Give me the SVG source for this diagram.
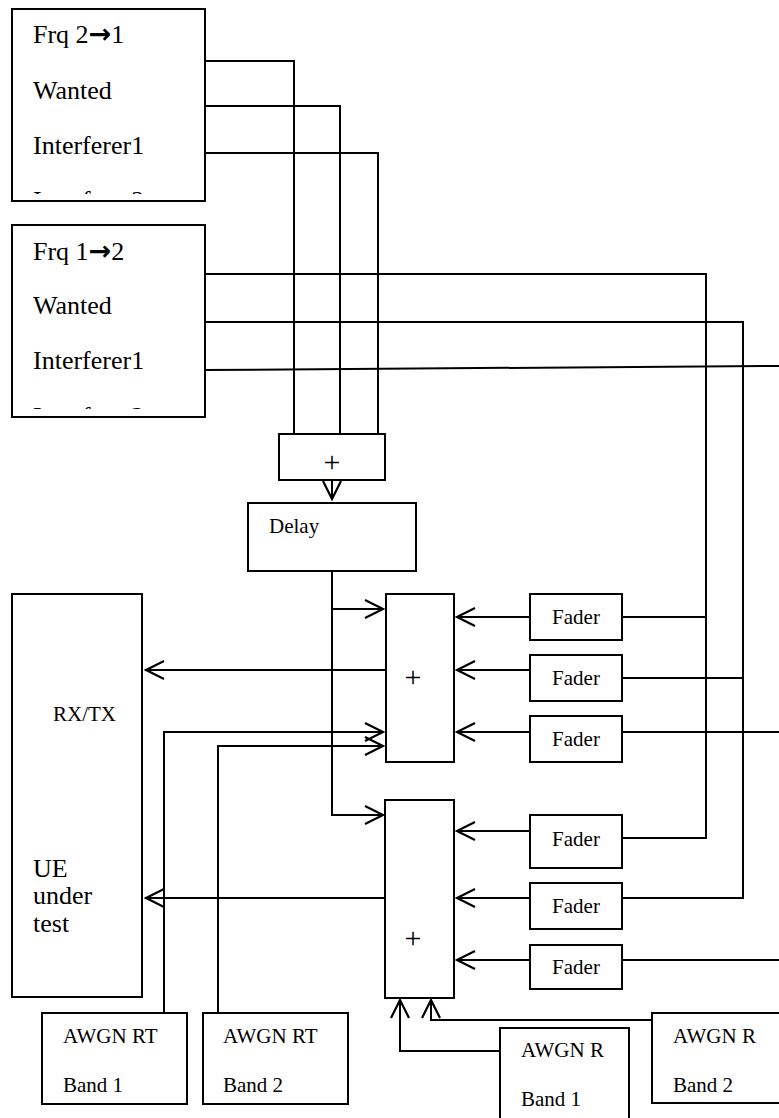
<svg xmlns="http://www.w3.org/2000/svg" width="779" height="1118" viewBox="0 0 779 1118">
<style>
.box{fill:#fff;stroke:#000;stroke-width:2}
.ln{fill:none;stroke:#000;stroke-width:2}
.t{font-family:"Liberation Serif","Times New Roman",serif;fill:#000}
.big{font-size:26px}
.sm{font-size:21px}
.pl{font-size:30px;text-anchor:middle}
.mid{text-anchor:middle}
.arr{font-family:"DejaVu Sans",sans-serif;font-weight:bold;font-size:27px}
</style>
<defs>
<marker id="ah" markerUnits="userSpaceOnUse" markerWidth="24" markerHeight="24" refX="20" refY="11" orient="auto" overflow="visible">
<path d="M2,2 L20,11 L2,20" fill="none" stroke="#000" stroke-width="2.2"/>
</marker>
<clipPath id="c1"><rect x="12" y="9" width="193" height="185"/></clipPath>
<clipPath id="c2"><rect x="12" y="225" width="193" height="184"/></clipPath>
</defs>
<rect width="779" height="1118" fill="#fff"/>
<g id="connectors">
<path class="ln" d="M205,61 H294 V434"/>
<path class="ln" d="M205,106 H340 V434"/>
<path class="ln" d="M205,153 H378 V434"/>
<path class="ln" d="M205,274 H706 V838 H622"/>
<path class="ln" d="M622,617 H706"/>
<path class="ln" d="M205,322 H743 V898 H622"/>
<path class="ln" d="M622,678 H743"/>
<path class="ln" d="M203,370 L779,366"/>
<path class="ln" d="M622,732 H779"/>
<path class="ln" d="M622,960 H779"/>
<path class="ln" d="M332,480 V499" marker-end="url(#ah)"/>
<path class="ln" d="M332,571 V815 H383" marker-end="url(#ah)"/>
<path class="ln" d="M332,609 H383" marker-end="url(#ah)"/>
<path class="ln" d="M386,670 H146" marker-end="url(#ah)"/>
<path class="ln" d="M385,898 H146" marker-end="url(#ah)"/>
<path class="ln" d="M530,617 H457" marker-end="url(#ah)"/>
<path class="ln" d="M530,670 H457" marker-end="url(#ah)"/>
<path class="ln" d="M530,732 H457" marker-end="url(#ah)"/>
<path class="ln" d="M530,831 H457" marker-end="url(#ah)"/>
<path class="ln" d="M530,898 H457" marker-end="url(#ah)"/>
<path class="ln" d="M530,960 H457" marker-end="url(#ah)"/>
<path class="ln" d="M164,1013 V732 H383" marker-end="url(#ah)"/>
<path class="ln" d="M218,1013 V746 H383" marker-end="url(#ah)"/>
<path class="ln" d="M500,1051 H400 V1000" marker-end="url(#ah)"/>
<path class="ln" d="M652,1020 H431 V1000" marker-end="url(#ah)"/>
</g>
<g id="frq21">
<rect class="box" x="12" y="9" width="193" height="192"/>
<g clip-path="url(#c1)" class="t big">
<text x="33" y="43">Frq 2<tspan class="arr">→</tspan>1</text>
<text x="33" y="99">Wanted</text>
<text x="33" y="154">Interferer1</text>
<text x="33" y="209">Interferer2</text>
</g>
</g>
<g id="frq12">
<rect class="box" x="12" y="225" width="193" height="192"/>
<g clip-path="url(#c2)" class="t big">
<text x="33" y="260">Frq 1<tspan class="arr">→</tspan>2</text>
<text x="33" y="314">Wanted</text>
<text x="33" y="369">Interferer1</text>
<text x="33" y="425">Interferer2</text>
</g>
</g>
<g id="sum-top">
<rect class="box" x="279" y="434" width="106" height="46"/>
<text class="t pl" x="332" y="472">+</text>
</g>
<g id="delay">
<rect class="box" x="248" y="503" width="168" height="68"/>
<text class="t sm" x="269" y="533">Delay</text>
</g>
<g id="ue">
<rect class="box" x="12" y="594" width="130" height="403"/>
<text class="t sm" x="53" y="721">RX/TX</text>
<text class="t big" x="33" y="877">UE</text>
<text class="t big" x="33" y="904">under</text>
<text class="t big" x="33" y="932">test</text>
</g>
<g id="adder1">
<rect class="box" x="386" y="594" width="68" height="168"/>
<text class="t pl" x="413" y="687">+</text>
</g>
<g id="adder2">
<rect class="box" x="385" y="800" width="69" height="198"/>
<text class="t pl" x="413" y="948">+</text>
</g>
<g id="fader1"><rect class="box" x="530" y="594" width="92" height="46"/><text class="t sm mid" x="576" y="624">Fader</text></g>
<g id="fader2"><rect class="box" x="530" y="655" width="92" height="46"/><text class="t sm mid" x="576" y="685">Fader</text></g>
<g id="fader3"><rect class="box" x="530" y="716" width="92" height="46"/><text class="t sm mid" x="576" y="746">Fader</text></g>
<g id="fader4"><rect class="box" x="530" y="815" width="92" height="53"/><text class="t sm mid" x="576" y="846">Fader</text></g>
<g id="fader5"><rect class="box" x="530" y="883" width="92" height="46"/><text class="t sm mid" x="576" y="913">Fader</text></g>
<g id="fader6"><rect class="box" x="530" y="945" width="92" height="44"/><text class="t sm mid" x="576" y="974">Fader</text></g>
<g id="awgn-rt1">
<rect class="box" x="42" y="1013" width="145" height="91"/>
<text class="t sm" x="63" y="1043">AWGN RT</text>
<text class="t sm" x="63" y="1092">Band 1</text>
</g>
<g id="awgn-rt2">
<rect class="box" x="203" y="1013" width="145" height="91"/>
<text class="t sm" x="223" y="1043">AWGN RT</text>
<text class="t sm" x="223" y="1092">Band 2</text>
</g>
<g id="awgn-r1">
<rect class="box" x="500" y="1028" width="129" height="100"/>
<text class="t sm" x="521" y="1057">AWGN R</text>
<text class="t sm" x="521" y="1106">Band 1</text>
</g>
<g id="awgn-r2">
<rect class="box" x="652" y="1013" width="140" height="90"/>
<text class="t sm" x="673" y="1043">AWGN R</text>
<text class="t sm" x="673" y="1092">Band 2</text>
</g>
</svg>
